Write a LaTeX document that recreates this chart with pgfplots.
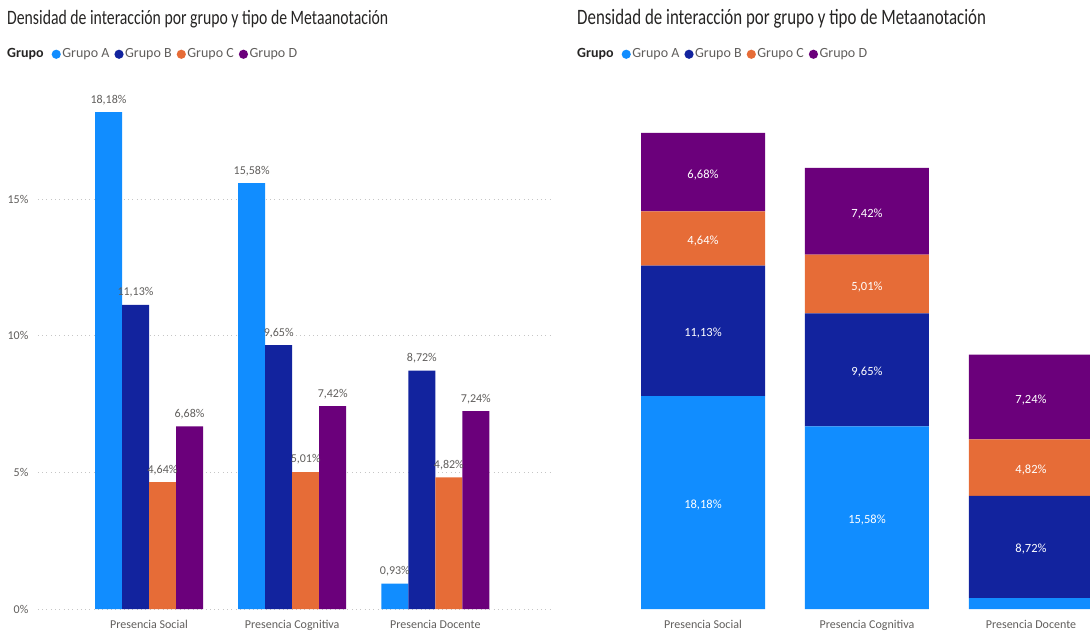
\documentclass[border=0pt]{standalone}
\usepackage{pgfplots}
\pgfplotsset{compat=1.18}
\usepackage{fontspec}
\setmainfont{Carlito}
\definecolor{ca}{HTML}{118DFF}
\definecolor{cb}{HTML}{12239E}
\definecolor{cc}{HTML}{E66C37}
\definecolor{cd}{HTML}{6B007B}
\definecolor{ttl}{HTML}{252423}
\definecolor{lbl}{HTML}{605E5C}
\newcommand{\dotc}[1]{\tikz[baseline=-3.2pt]\fill[#1] (0pt,0pt) circle (4.6pt);}
\newcommand{\legendline}{\fontsize{14}{16}\selectfont\textcolor{ttl}{\bfseries Grupo}\hspace{8pt}\dotc{ca}\hspace{1.5pt}\textcolor{lbl}{Grupo A}\hspace{5pt}\dotc{cb}\hspace{1.5pt}\textcolor{lbl}{Grupo B}\hspace{5pt}\dotc{cc}\hspace{1.5pt}\textcolor{lbl}{Grupo C}\hspace{5pt}\dotc{cd}\hspace{1.5pt}\textcolor{lbl}{Grupo D}}
\begin{document}
\begin{tikzpicture}
\useasboundingbox (0pt,0pt) rectangle (1090pt,630pt);
\clip (0pt,0pt) rectangle (1090pt,630pt);
\node[anchor=west, text=ttl, inner sep=0] at (7pt,611pt) {\scalebox{1}[1.3]{\fontsize{15.75}{18}\selectfont Densidad de interacción por grupo y tipo de Metaanotación}};
\node[anchor=west, text=ttl, inner sep=0] at (577pt,611pt) {\scalebox{1}[1.3]{\fontsize{16.9}{18}\selectfont Densidad de interacción por grupo y tipo de Metaanotación}};
\node[anchor=west, inner sep=0] at (7pt,576pt) {\legendline};
\node[anchor=west, inner sep=0] at (577pt,576pt) {\legendline};

\begin{axis}[
  at={(149pt,21pt)}, anchor=origin, scale only axis,
  width=512pt, height=533pt,
  xmin=-0.776, xmax=2.80, ymin=0, ymax=19.5,
  clip=false,
  /pgf/number format/assume math mode=true,
  axis line style={draw=none}, major tick length=0pt,
  xtick={0,1,2}, xticklabels={Presencia Social, Presencia Cognitiva, Presencia Docente},
  ytick={0,5,10,15}, yticklabels={0\%,5\%,10\%,15\%},
  ymajorgrids, grid style={gray!45, dash pattern=on 1pt off 3.3pt, line width=0.8pt},
  tick label style={font=\fontsize{12}{14}\selectfont, text=lbl},
  yticklabel style={xshift=-6pt},
  xticklabel style={yshift=-8pt},
  ybar=0pt, bar width=27pt,
  nodes near coords={\pgfmathprintnumber[fixed,fixed zerofill,precision=2,use comma]{\pgfplotspointmeta}\%},
  every node near coord/.append style={font=\fontsize{12}{14}\selectfont, text=lbl, yshift=4pt},
]
\addplot[fill=ca, draw=none] coordinates {(0,18.18) (1,15.58) (2,0.93)};
\addplot[fill=cb, draw=none] coordinates {(0,11.13) (1,9.65) (2,8.72)};
\addplot[fill=cc, draw=none] coordinates {(0,4.64) (1,5.01) (2,4.82)};
\addplot[fill=cd, draw=none] coordinates {(0,6.68) (1,7.42) (2,7.24)};
\end{axis}

\begin{axis}[
  at={(703pt,21pt)}, anchor=origin, scale only axis,
  width=490pt, height=527.2pt,
  xmin=-0.628, xmax=2.36, ymin=0, ymax=45,
  clip=false,
  axis line style={draw=none}, major tick length=0pt,
  xtick={0,1,2}, xticklabels={Presencia Social, Presencia Cognitiva, Presencia Docente},
  ytick=\empty,
  tick label style={font=\fontsize{12}{14}\selectfont, text=lbl},
  xticklabel style={yshift=-8pt},
  ybar stacked, bar width=124pt,
  point meta=explicit symbolic,
  nodes near coords,
  every node near coord/.append style={font=\fontsize{12.5}{14}\selectfont, text=white, anchor=center, yshift=-2.5pt},
]
\addplot[fill=ca, draw=none] coordinates {(0,18.18) [18,18\%] (1,15.58) [15,58\%] (2,0.93) []};
\addplot[fill=cb, draw=none] coordinates {(0,11.13) [11,13\%] (1,9.65) [9,65\%] (2,8.72) [8,72\%]};
\addplot[fill=cc, draw=none] coordinates {(0,4.64) [4,64\%] (1,5.01) [5,01\%] (2,4.82) [4,82\%]};
\addplot[fill=cd, draw=none] coordinates {(0,6.68) [6,68\%] (1,7.42) [7,42\%] (2,7.24) [7,24\%]};
\end{axis}
\end{tikzpicture}
\end{document}
